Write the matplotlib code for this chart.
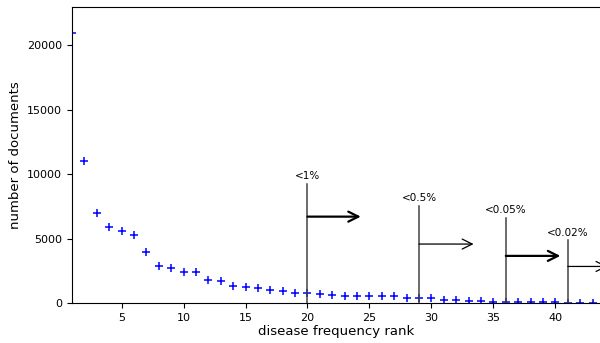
import matplotlib
matplotlib.use("Agg")
import matplotlib.pyplot as plt

plt.rcParams['font.family'] = ['DejaVu Sans']

ranks = list(range(1, 44))
docs = [21000, 11030, 6980, 5890, 5560, 5300, 3930, 2840, 2710, 2400,
        2380, 1780, 1730, 1290, 1270, 1140, 1030, 900, 800, 740,
        700, 650, 570, 570, 570, 570, 520, 390, 360, 340,
        210, 210, 155, 130, 80, 80, 50, 50, 50, 50,
        25, 25, 25]

# cutoffs: rank, label, line top, arrow height, arrow end, arrow width
cut_ranks = [20, 29, 36, 41]
cut_labels = ['<1%', '<0.5%', '<0.05%', '<0.02%']
cut_tops = [9250, 7550, 6600, 4850]
arrow_y = [6700, 4570, 3650, 2830]
arrow_end = [24.3, 33.4, 40.4, 44.2]
arrow_lw = [1.6, 0.9, 1.6, 0.9]

fig = plt.figure(figsize=(6, 3.43), dpi=100)
ax = fig.add_axes([0.12, 0.117, 0.88, 0.863])

ax.plot(ranks, docs, linestyle='none', marker='+', color='blue',
        markersize=6, markeredgewidth=1.1)

for r, lab, top, ay, ae, lw in zip(cut_ranks, cut_labels, cut_tops,
                                   arrow_y, arrow_end, arrow_lw):
    ax.plot([r, r], [0, top], color='#444444', linewidth=1.1)
    ax.text(r, top + 200, lab, ha='center', va='bottom', fontsize=7.5)
    ax.annotate('', xy=(ae, ay), xytext=(r, ay),
                arrowprops=dict(arrowstyle='->,head_length=0.6,head_width=0.3',
                                color='black', lw=lw,
                                mutation_scale=12, shrinkA=0, shrinkB=0),
                annotation_clip=False)

ax.set_xlim(1, 43.6)
ax.set_ylim(0, 23000)
ax.set_xticks([5, 10, 15, 20, 25, 30, 35, 40])
ax.set_yticks([0, 5000, 10000, 15000, 20000])
ax.tick_params(labelsize=8)
ax.spines['right'].set_visible(False)
ax.set_xlabel('disease frequency rank', fontsize=9.5, labelpad=2)
ax.set_ylabel('number of documents', fontsize=9.5)

fig.savefig('out.png', dpi=100)
